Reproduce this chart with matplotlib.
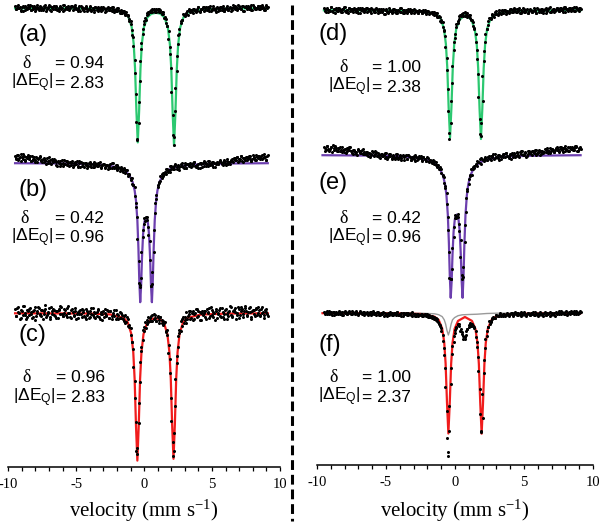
import numpy as np
import matplotlib.pyplot as plt
from matplotlib.ticker import MultipleLocator

plt.rcParams['font.family'] = ['Liberation Sans', 'DejaVu Sans']
plt.rcParams['mathtext.default'] = 'regular'
plt.rcParams['axes.unicode_minus'] = False

# channel velocities (mm/s) of the two halves of each folded spectrum
channel_v = np.linspace(-9.5, 9.1, 187)
channel_v2 = np.linspace(-9.45, 9.05, 187)

dots_a = [100.2, 99.9, 100.3, 100.0, 99.8, 100.1, 99.7, 100.2, 100.1, 99.9,
          100.0, 100.3, 99.8, 99.9, 100.2, 99.7, 100.1, 100.0, 100.2, 99.8,
          99.9, 100.2, 100.1, 99.7, 100.0, 100.3, 99.8, 100.1, 99.9, 100.2,
          100.1, 99.8, 100.0, 100.2, 99.9, 99.7, 100.3, 99.9, 100.1, 100.0,
          99.8, 100.1, 100.2, 99.9, 100.1, 99.9, 99.7, 100.2, 99.7, 100.0,
          100.0, 99.7, 100.1, 99.9, 99.8, 100.2, 99.7, 100.0, 99.8, 100.1,
          99.8, 100.1, 99.9, 99.7, 100.0, 100.1, 99.6, 99.9, 100.0, 99.8,
          100.0, 99.7, 100.1, 99.8, 99.7, 100.0, 99.8, 99.5, 99.8, 99.5,
          99.7, 99.4, 99.6, 99.2, 98.9, 98.7, 97.8, 97.1, 94.8, 91.4,
          86.8, 88.5, 92.7, 95.9, 97.4, 98.4, 98.8, 99.3, 99.6, 99.6,
          99.8, 99.6, 99.9, 99.8, 99.6, 99.9, 99.9, 99.6, 99.6, 99.6,
          99.1, 98.9, 98.2, 97.7, 96.1, 94.0, 89.3, 86.3, 89.7, 93.7,
          96.4, 97.4, 98.5, 98.8, 99.3, 99.2, 99.5, 99.3, 99.8, 99.7,
          99.6, 99.9, 99.8, 99.6, 99.9, 100.1, 99.7, 99.9, 100.1, 99.7,
          100.0, 99.8, 100.1, 100.0, 99.7, 99.9, 100.2, 99.8, 100.0, 99.7,
          99.9, 100.1, 99.8, 100.2, 99.7, 100.0, 99.9, 99.8, 100.1, 100.0,
          99.8, 100.1, 100.2, 99.9, 100.3, 100.0, 99.9, 100.2, 99.7, 100.1,
          100.2, 100.0, 99.9, 100.1, 99.8, 100.3, 100.1, 99.9, 100.0, 100.2,
          99.9, 100.1, 100.3, 100.0, 99.8, 100.2, 100.1]
dots_a2 = [99.9, 100.2, 100.0, 100.1, 99.7, 100.2, 100.1, 99.8, 100.0, 100.3,
           100.1, 99.8, 100.2, 100.0, 100.1, 99.9, 100.3, 99.8, 100.0, 100.1,
           99.8, 100.0, 100.3, 99.9, 100.1, 100.2, 99.7, 100.0, 100.2, 99.9,
           100.2, 99.9, 99.7, 100.1, 100.0, 100.3, 99.8, 100.1, 99.9, 100.2,
           100.0, 100.2, 99.8, 100.1, 100.3, 99.9, 100.0, 99.8, 100.2, 100.1,
           99.8, 100.0, 100.2, 99.7, 99.9, 100.1, 99.8, 100.0, 99.6, 100.1,
           100.0, 99.7, 99.9, 100.1, 99.8, 100.0, 99.9, 99.7, 100.1, 99.8,
           99.8, 100.1, 99.9, 99.6, 99.9, 99.7, 100.0, 99.7, 99.5, 99.7,
           99.6, 99.3, 99.3, 99.3, 98.7, 98.4, 97.3, 96.2, 93.5, 88.6,
           86.9, 90.6, 94.7, 96.5, 97.9, 98.7, 99.0, 99.5, 99.4, 99.7,
           99.6, 99.9, 99.8, 99.6, 99.9, 99.8, 99.6, 99.8, 99.4, 99.4,
           99.0, 98.5, 98.2, 96.9, 95.4, 91.6, 87.3, 87.1, 92.0, 95.2,
           97.3, 97.9, 98.7, 98.8, 99.4, 99.4, 99.4, 99.7, 99.9, 99.6,
           99.8, 99.5, 99.9, 99.8, 99.7, 100.1, 99.6, 99.9, 99.9, 100.1,
           99.8, 100.1, 99.9, 99.7, 100.2, 99.8, 100.0, 99.9, 99.6, 100.1,
           100.0, 99.8, 100.1, 100.0, 99.7, 99.9, 100.2, 99.8, 100.0, 99.7,
           100.0, 100.3, 99.9, 100.1, 99.8, 100.2, 100.0, 99.9, 100.2, 99.7,
           100.1, 99.9, 100.2, 100.0, 100.3, 99.8, 100.1, 99.9, 100.0, 100.2,
           99.9, 100.2, 100.0, 100.1, 99.8, 100.3, 100.0]

dots_b = [100.7, 100.4, 100.8, 100.5, 100.2, 100.6, 100.9, 100.3, 100.6, 100.5,
          100.4, 100.7, 100.2, 100.3, 100.6, 100.1, 100.5, 100.4, 100.7, 100.2,
          100.1, 100.5, 100.3, 99.9, 100.2, 100.6, 100.0, 100.3, 100.1, 100.4,
          100.1, 99.7, 100.0, 100.2, 99.9, 99.7, 100.3, 99.9, 100.2, 100.0,
          99.7, 100.0, 100.2, 99.8, 100.1, 99.9, 99.6, 100.2, 99.6, 100.0,
          100.0, 99.6, 100.0, 99.8, 99.7, 100.1, 99.6, 99.9, 99.6, 100.0,
          99.7, 100.0, 99.8, 99.5, 99.8, 99.9, 99.5, 99.7, 99.8, 99.6,
          99.9, 99.5, 100.0, 99.6, 99.5, 99.8, 99.5, 99.2, 99.5, 99.3,
          99.4, 99.0, 99.3, 98.9, 98.9, 98.3, 98.5, 97.8, 97.6, 96.0,
          94.6, 90.2, 87.6, 88.5, 92.6, 93.9, 94.6, 94.6, 93.6, 92.2,
          87.7, 87.9, 91.1, 95.0, 96.4, 97.6, 98.0, 98.2, 98.9, 98.7,
          99.1, 98.9, 99.4, 99.3, 99.1, 99.7, 99.4, 99.7, 99.9, 99.4,
          99.8, 99.6, 99.7, 100.0, 99.5, 99.8, 99.5, 99.9, 99.8, 99.9,
          99.7, 100.0, 100.1, 99.6, 99.8, 99.9, 99.5, 100.0, 100.0, 99.7,
          100.1, 99.9, 99.7, 100.2, 100.0, 99.8, 100.1, 99.6, 100.0, 99.9,
          100.1, 100.3, 99.9, 100.0, 100.2, 99.8, 100.4, 100.0, 99.9, 100.2,
          100.2, 100.5, 100.3, 100.6, 100.1, 100.4, 100.7, 100.2, 100.5, 100.3,
          100.6, 100.3, 100.7, 100.4, 100.2, 100.8, 100.5, 100.3, 100.6, 100.7,
          100.5, 100.7, 100.4, 100.9, 100.6, 100.3, 100.8]
dots_b2 = [100.5, 100.8, 100.3, 100.6, 100.9, 100.4, 100.7, 100.2, 100.6, 100.8,
           100.5, 100.2, 100.7, 100.4, 100.3, 100.6, 100.1, 100.5, 100.6, 100.3,
           100.4, 100.1, 100.2, 100.5, 100.0, 100.3, 99.9, 100.4, 100.2, 100.3,
           99.8, 100.2, 100.1, 99.7, 100.3, 100.0, 99.9, 100.2, 99.8, 100.1,
           100.1, 99.8, 99.6, 100.0, 99.9, 100.2, 99.7, 100.0, 100.1, 99.7,
           99.7, 100.0, 99.8, 99.5, 100.0, 99.7, 99.9, 99.6, 100.1, 99.8,
           99.9, 99.7, 100.1, 99.6, 99.8, 99.9, 99.6, 99.8, 99.4, 99.8,
           99.5, 100.0, 99.6, 99.5, 99.8, 99.3, 99.6, 99.5, 99.6, 99.1,
           99.5, 99.1, 99.3, 98.7, 98.8, 98.5, 97.9, 97.8, 96.7, 95.6,
           92.4, 88.0, 87.8, 91.1, 93.3, 94.5, 94.2, 94.3, 92.8, 90.3,
           87.7, 89.1, 93.3, 96.0, 96.8, 97.8, 98.1, 98.7, 98.5, 99.0,
           98.9, 99.4, 99.3, 99.1, 99.7, 99.4, 99.6, 99.4, 99.8, 99.6,
           99.7, 99.3, 99.9, 99.7, 99.6, 100.0, 99.5, 99.9, 99.7, 100.0,
           99.6, 99.9, 100.1, 99.7, 99.8, 99.5, 100.0, 99.9, 99.6, 100.2,
           100.0, 99.7, 100.2, 99.9, 99.8, 100.1, 99.6, 100.0, 99.9, 100.1,
           99.9, 100.2, 100.1, 99.8, 100.3, 100.0, 100.2, 99.9, 100.1, 100.3,
           100.4, 100.1, 100.5, 100.3, 100.6, 100.2, 100.4, 100.7, 100.1, 100.5,
           100.3, 100.6, 100.5, 100.7, 100.2, 100.4, 100.6, 100.3, 100.8, 100.5,
           100.7, 100.4, 100.8, 100.5, 100.6, 100.3, 100.7]

dots_c = [100.4, 99.7, 100.6, 100.0, 99.5, 100.2, 100.7, 99.8, 99.4, 100.3,
          99.8, 100.5, 100.1, 99.6, 100.3, 99.3, 100.2, 100.6, 99.9, 99.7,
          100.3, 99.9, 100.8, 99.6, 100.0, 100.5, 99.4, 100.2, 100.4, 99.8,
          99.5, 100.2, 100.4, 99.9, 100.6, 99.7, 100.0, 100.3, 99.6, 100.7,
          100.0, 99.5, 100.4, 99.7, 100.2, 99.4, 100.1, 99.9, 100.3, 99.6,
          100.3, 99.7, 99.4, 100.2, 100.0, 99.6, 100.5, 99.8, 100.1, 99.5,
          100.1, 100.4, 99.6, 99.9, 99.3, 100.2, 100.0, 99.7, 100.3, 99.5,
          100.2, 99.7, 99.8, 100.3, 99.4, 99.9, 99.4, 100.1, 99.5, 99.8,
          99.2, 99.8, 99.1, 99.4, 98.6, 98.5, 97.1, 96.4, 93.2, 89.1,
          85.9, 89.0, 93.1, 96.2, 97.3, 98.6, 98.5, 99.3, 99.1, 99.5,
          99.7, 99.2, 99.9, 99.5, 99.2, 99.7, 99.3, 99.6, 99.0, 99.2,
          99.1, 98.2, 98.3, 96.8, 95.4, 91.5, 87.1, 86.2, 90.7, 95.0,
          96.6, 98.3, 98.2, 99.4, 99.0, 99.6, 99.0, 99.7, 100.2, 99.4,
          100.0, 99.3, 99.9, 100.4, 99.6, 100.2, 99.3, 100.0, 99.8, 100.2,
          99.6, 100.4, 100.0, 99.5, 100.6, 99.8, 100.1, 99.3, 100.2, 99.9,
          100.3, 99.7, 100.5, 99.6, 99.9, 100.4, 99.4, 100.1, 100.7, 99.8,
          99.6, 100.3, 100.1, 99.8, 100.6, 99.5, 100.2, 100.4, 99.9, 100.7,
          100.2, 99.7, 100.5, 100.1, 99.4, 100.3, 99.9, 100.4, 99.8, 100.6,
          99.8, 100.4, 100.0, 99.5, 100.3, 100.1, 99.7]
dots_c2 = [99.7, 100.5, 100.1, 99.4, 100.3, 99.8, 100.7, 100.0, 99.6, 100.2,
           100.4, 99.9, 99.5, 100.2, 100.6, 99.7, 100.0, 100.5, 99.8, 100.3,
           99.4, 100.2, 100.4, 99.8, 100.1, 99.6, 100.6, 99.9, 100.3, 99.7,
           100.2, 99.5, 100.3, 100.7, 99.9, 99.7, 100.4, 99.8, 100.5, 100.0,
           99.6, 100.3, 100.1, 99.8, 100.5, 99.9, 99.5, 100.2, 99.9, 100.4,
           100.1, 99.6, 100.4, 99.8, 99.5, 100.2, 99.9, 100.5, 99.6, 100.0,
           99.7, 100.3, 99.4, 100.1, 99.9, 99.6, 100.4, 99.8, 100.2, 99.5,
           100.2, 99.4, 100.0, 99.7, 100.3, 99.5, 99.8, 99.5, 100.0, 99.4,
           99.7, 99.0, 99.6, 98.7, 98.8, 97.8, 97.1, 94.6, 91.5, 86.2,
           86.5, 91.0, 95.1, 96.6, 98.3, 98.2, 99.1, 98.9, 99.6, 99.2,
           99.2, 99.8, 99.4, 99.8, 99.2, 99.6, 99.0, 99.6, 99.3, 98.8,
           99.0, 98.1, 97.8, 96.0, 94.0, 89.2, 85.7, 88.0, 93.4, 95.7,
           97.7, 98.0, 99.2, 98.7, 99.6, 99.3, 100.1, 99.4, 99.9, 100.2,
           99.5, 100.2, 99.4, 100.0, 100.4, 99.7, 100.1, 99.3, 100.2, 100.0,
           100.2, 99.4, 100.1, 100.5, 99.7, 100.3, 99.6, 100.0, 100.4, 99.5,
           100.0, 100.5, 99.6, 100.1, 99.4, 100.3, 99.9, 99.7, 100.2, 100.6,
           99.7, 100.2, 100.5, 99.4, 100.0, 100.4, 99.8, 100.6, 99.6, 100.2,
           100.5, 99.8, 100.1, 100.6, 99.6, 100.2, 100.3, 99.7, 100.5, 100.0,
           100.3, 99.7, 100.6, 100.1, 99.8, 100.4, 99.9]

dots_d = [100.2, 99.9, 100.1, 99.8, 100.0, 100.3, 99.9, 100.1, 99.7, 100.2,
          99.9, 100.2, 100.0, 99.8, 100.1, 100.3, 99.8, 100.0, 100.2, 99.9,
          100.1, 99.8, 100.2, 100.1, 99.9, 99.7, 100.2, 100.0, 100.1, 99.8,
          100.0, 100.2, 99.9, 100.1, 99.7, 100.1, 100.0, 99.8, 100.2, 99.7,
          100.1, 99.8, 99.9, 100.1, 99.6, 100.0, 99.8, 100.2, 99.9, 99.7,
          100.0, 100.1, 99.7, 99.9, 100.0, 99.8, 100.2, 99.7, 100.0, 99.9,
          99.8, 100.1, 99.9, 99.7, 100.0, 100.1, 99.8, 99.9, 99.7, 100.0,
          99.9, 99.7, 100.0, 99.8, 99.6, 99.9, 99.8, 99.7, 99.8, 99.6,
          99.8, 99.5, 99.7, 99.3, 99.3, 98.8, 98.8, 98.0, 97.4, 95.2,
          92.1, 87.7, 88.7, 92.7, 96.0, 97.2, 98.3, 98.9, 99.1, 99.4,
          99.6, 99.7, 99.4, 99.7, 99.7, 99.4, 99.5, 99.0, 98.8, 98.2,
          97.6, 96.0, 93.6, 89.1, 87.4, 90.9, 94.9, 96.8, 98.1, 98.5,
          99.2, 99.1, 99.5, 99.3, 99.8, 99.6, 99.6, 100.0, 99.6, 99.9,
          99.7, 100.0, 99.8, 99.9, 99.7, 100.1, 99.8, 100.0, 100.2, 99.8,
          100.1, 99.9, 99.7, 100.0, 100.2, 99.8, 99.9, 100.1, 99.7, 100.0,
          100.0, 99.8, 100.2, 99.9, 99.7, 100.1, 100.0, 99.8, 100.1, 99.9,
          100.1, 99.7, 100.0, 100.2, 99.8, 99.9, 100.1, 99.8, 100.0, 100.2,
          99.9, 100.2, 100.0, 100.1, 100.3, 99.8, 100.1, 100.0, 100.2, 99.9,
          100.1, 100.3, 99.9, 100.2, 100.0, 100.2, 100.1]
dots_d2 = [100.1, 99.8, 100.2, 100.0, 99.9, 100.3, 99.8, 100.1, 100.0, 99.9,
           100.2, 100.0, 99.8, 100.1, 100.3, 99.9, 100.0, 99.7, 100.2, 100.1,
           99.9, 100.1, 100.0, 99.8, 100.2, 100.1, 99.7, 100.2, 99.9, 100.1,
           100.2, 99.8, 100.1, 99.9, 100.2, 100.0, 99.8, 100.1, 100.1, 99.9,
           99.9, 100.1, 99.8, 99.6, 100.0, 100.1, 99.7, 99.9, 100.0, 99.8,
           100.1, 99.8, 100.0, 99.7, 99.9, 100.2, 99.8, 100.0, 99.7, 100.0,
           99.7, 100.0, 100.1, 99.8, 99.9, 99.7, 100.0, 99.9, 99.7, 99.9,
           99.9, 99.7, 99.8, 100.0, 99.7, 99.9, 99.6, 99.7, 99.8, 99.6,
           99.5, 99.7, 99.3, 99.4, 98.9, 99.0, 98.3, 97.9, 96.3, 94.0,
           89.9, 87.1, 90.9, 94.4, 96.8, 97.6, 98.6, 98.7, 99.4, 99.5,
           99.6, 99.4, 99.8, 99.5, 99.3, 99.5, 99.2, 99.0, 98.4, 98.1,
           96.8, 95.1, 91.3, 87.6, 88.7, 93.4, 95.9, 97.6, 98.1, 98.9,
           99.2, 99.2, 99.6, 99.4, 99.6, 99.9, 99.5, 99.8, 99.7, 100.0,
           99.7, 100.0, 99.6, 99.8, 99.9, 99.8, 100.1, 99.8, 99.9, 100.1,
           99.8, 100.0, 100.2, 99.7, 99.9, 100.1, 99.8, 100.0, 99.7, 99.9,
           100.1, 99.8, 99.9, 100.0, 99.7, 100.2, 99.8, 99.9, 100.1, 99.7,
           100.0, 100.2, 99.9, 100.1, 100.3, 99.8, 100.0, 100.1, 99.9, 100.2,
           100.1, 99.9, 100.2, 100.0, 99.8, 100.3, 100.1, 99.9, 100.2, 100.0,
           100.2, 100.0, 99.9, 100.3, 100.1, 99.9, 100.2]

dots_e = [100.8, 100.4, 100.9, 100.6, 100.5, 100.8, 100.3, 100.7, 100.9, 100.5,
          100.4, 100.7, 100.8, 100.3, 100.5, 100.6, 100.2, 100.7, 100.5, 100.8,
          100.4, 100.1, 100.5, 100.3, 100.0, 100.5, 100.4, 100.2, 100.6, 100.1,
          100.1, 100.3, 99.9, 100.2, 100.0, 100.4, 99.9, 100.1, 100.3, 100.0,
          100.0, 99.7, 100.1, 99.9, 100.2, 99.8, 99.6, 100.1, 99.9, 99.7,
          100.0, 99.7, 99.8, 100.1, 99.6, 99.9, 99.7, 100.0, 99.5, 99.9,
          99.6, 100.0, 99.9, 99.5, 99.7, 99.9, 99.4, 99.8, 99.6, 99.9,
          99.9, 99.5, 99.8, 99.6, 99.4, 99.8, 99.4, 99.5, 99.2, 99.5,
          99.1, 99.3, 98.8, 99.0, 98.6, 98.6, 97.9, 97.8, 96.9, 96.2,
          93.8, 90.3, 87.6, 88.6, 91.8, 93.7, 93.9, 94.1, 93.1, 91.5,
          88.0, 87.8, 91.3, 94.3, 96.4, 97.1, 98.0, 98.0, 98.6, 98.7,
          99.1, 98.9, 99.3, 99.6, 99.1, 99.5, 99.4, 99.7, 99.5, 99.8,
          99.6, 99.9, 99.8, 99.6, 100.1, 99.8, 99.7, 100.0, 99.6, 99.9,
          100.1, 99.8, 100.2, 99.9, 99.7, 100.0, 100.2, 99.8, 100.1, 99.9,
          100.2, 99.9, 100.3, 100.4, 100.0, 100.1, 100.3, 99.9, 100.4, 100.2,
          100.1, 100.4, 100.2, 100.5, 100.0, 100.3, 100.5, 100.1, 100.4, 100.2,
          100.6, 100.3, 100.7, 100.4, 100.2, 100.6, 100.5, 100.3, 100.7, 100.5,
          100.4, 100.8, 100.6, 100.3, 100.7, 100.9, 100.5, 100.4, 100.8, 100.6,
          100.7, 100.5, 100.9, 100.8, 100.4, 100.7, 100.6]
dots_e2 = [100.7, 100.5, 100.9, 100.4, 100.6, 100.8, 101.0, 100.5, 100.7, 100.4,
           100.7, 100.4, 100.5, 100.8, 100.3, 100.6, 100.4, 100.7, 100.8, 100.4,
           100.2, 100.5, 100.3, 100.1, 100.6, 100.4, 100.2, 100.5, 100.1, 100.3,
           100.3, 100.0, 100.2, 99.8, 100.1, 100.3, 100.0, 100.4, 99.9, 100.2,
           99.8, 100.1, 99.9, 100.0, 99.7, 100.2, 99.8, 99.9, 100.1, 99.6,
           99.9, 99.6, 100.1, 99.8, 99.7, 100.0, 99.5, 99.9, 99.8, 100.0,
           99.6, 100.0, 99.8, 99.5, 99.8, 99.6, 100.0, 99.5, 99.8, 99.7,
           99.7, 99.4, 99.8, 99.6, 99.4, 99.7, 99.3, 99.5, 99.3, 99.2,
           99.4, 99.0, 99.0, 98.6, 98.8, 98.2, 98.0, 97.2, 96.7, 95.1,
           92.5, 87.7, 87.6, 90.7, 92.8, 94.0, 93.7, 93.8, 92.4, 89.8,
           87.6, 88.8, 93.0, 95.7, 96.6, 97.6, 97.9, 98.6, 98.8, 98.9,
           99.0, 99.4, 99.3, 99.2, 99.7, 99.6, 99.5, 99.8, 99.5, 99.8,
           99.9, 99.5, 99.9, 100.1, 99.7, 99.8, 100.0, 99.5, 99.9, 99.9,
           99.8, 100.1, 100.2, 99.9, 99.8, 100.1, 99.6, 100.0, 100.2, 99.8,
           100.3, 100.0, 99.8, 100.1, 100.4, 100.0, 100.2, 99.8, 100.1, 100.4,
           100.3, 100.0, 100.4, 100.2, 100.5, 100.1, 100.3, 100.0, 100.4, 100.3,
           100.3, 100.6, 100.5, 100.2, 100.7, 100.4, 100.6, 100.3, 100.5, 100.8,
           100.6, 100.3, 100.8, 100.5, 100.7, 100.4, 100.6, 100.8, 100.4, 100.7,
           100.8, 100.5, 100.7, 100.9, 100.4, 100.6, 100.8]

dots_f = [100.1, 99.9, 100.2, 100.0, 99.9, 100.1, 99.8, 100.1, 100.0, 99.9,
          100.0, 100.2, 99.9, 100.1, 99.8, 100.0, 100.1, 99.9, 100.2, 100.0,
          99.9, 100.1, 100.0, 100.2, 99.9, 99.8, 100.1, 100.0, 99.9, 100.1,
          100.0, 99.9, 99.8, 100.0, 100.1, 99.9, 99.9, 100.0, 99.8, 100.1,
          99.9, 99.8, 100.0, 100.1, 99.8, 99.9, 99.7, 100.0, 99.9, 100.0,
          99.8, 100.0, 99.9, 100.1, 99.8, 99.9, 100.0, 99.7, 100.0, 99.9,
          100.0, 99.8, 99.9, 100.0, 99.7, 99.9, 99.9, 99.7, 99.9, 99.8,
          99.9, 99.7, 99.8, 99.9, 99.7, 99.9, 99.6, 99.7, 99.7, 99.5,
          99.6, 99.3, 99.4, 99.1, 98.7, 98.5, 97.8, 96.5, 94.5, 90.2,
          85.7, 88.2, 92.9, 95.9, 97.1, 98.0, 98.5, 98.8, 98.9, 98.4,
          98.1, 97.7, 97.4, 97.8, 98.4, 98.6, 98.9, 98.9, 98.7, 98.6,
          98.2, 97.1, 95.6, 92.4, 88.2, 89.5, 94.0, 96.5, 97.7, 98.6,
          98.9, 99.1, 99.5, 99.5, 99.5, 99.8, 99.7, 99.8, 99.7, 99.8,
          99.9, 99.7, 99.8, 100.0, 99.8, 99.9, 100.0, 99.7, 100.0, 99.9,
          99.8, 100.0, 99.9, 99.7, 100.0, 100.1, 99.8, 99.9, 100.0, 99.8,
          100.0, 99.9, 99.8, 100.1, 99.9, 99.7, 100.0, 100.0, 99.8, 99.9,
          100.1, 99.8, 99.9, 100.0, 99.7, 100.0, 99.9, 99.8, 100.1, 99.9,
          99.9, 100.1, 100.2, 100.0, 99.9, 100.1, 99.8, 100.0, 100.1, 100.2,
          100.0, 99.9, 100.1, 100.2, 99.9, 100.0, 100.1]
dots_f2 = [100.0, 100.1, 99.9, 100.2, 100.0, 99.9, 100.1, 99.8, 100.1, 100.0,
           99.9, 100.1, 100.0, 99.8, 100.1, 100.2, 99.9, 100.0, 100.1, 99.9,
           100.2, 100.0, 99.9, 100.1, 99.9, 100.0, 100.2, 99.9, 100.1, 99.8,
           100.0, 100.1, 99.9, 100.1, 99.8, 100.2, 100.0, 99.9, 100.1, 100.0,
           99.8, 100.0, 99.9, 99.7, 100.0, 99.9, 100.0, 99.8, 100.1, 99.8,
           99.9, 100.0, 99.8, 100.1, 99.8, 99.9, 99.7, 100.0, 99.9, 100.0,
           99.8, 100.0, 99.9, 99.8, 100.1, 99.9, 99.7, 99.9, 99.7, 99.8,
           99.8, 99.9, 99.7, 99.9, 99.8, 99.6, 99.8, 99.6, 99.5, 99.6,
           99.4, 99.5, 99.2, 98.9, 98.8, 98.2, 97.2, 95.8, 92.6, 87.5,
           86.1, 90.7, 94.5, 96.7, 97.7, 98.3, 98.6, 98.9, 98.7, 98.2,
           97.9, 97.4, 97.6, 98.2, 98.4, 98.8, 99.0, 98.7, 98.7, 98.5,
           97.6, 96.6, 94.2, 89.9, 88.1, 91.9, 95.3, 97.4, 98.2, 98.6,
           99.2, 99.2, 99.4, 99.6, 99.5, 99.8, 99.7, 99.7, 100.0, 99.8,
           99.7, 99.9, 99.8, 99.9, 99.7, 99.9, 100.0, 99.8, 99.9, 100.1,
           100.0, 99.8, 99.9, 100.1, 99.8, 100.0, 99.9, 99.7, 100.0, 99.9,
           99.8, 99.9, 100.1, 99.8, 100.0, 99.9, 99.8, 100.1, 99.9, 99.7,
           100.0, 99.8, 100.0, 99.9, 100.1, 99.8, 99.9, 100.0, 99.7, 100.0,
           100.0, 100.2, 99.9, 100.1, 100.0, 99.9, 100.2, 100.0, 100.1, 99.9,
           100.1, 100.0, 100.2, 99.9, 100.1, 100.0, 100.2]

# fit curves (velocity, transmission %)
fit_a_v = [-9.5, -6, -4, -2.47, -1.47, -1.17, -0.92, -0.77, -0.67, -0.57, -0.47, -0.37,
           -0.27, -0.17, -0.02, 0.23, 0.53, 0.865, 1.2, 1.5, 1.75, 1.9, 2.0, 2.1, 2.2,
           2.3, 2.4, 2.5, 2.65, 2.9, 3.2, 4.2, 6, 9.1]
fit_a_t = [99.97, 99.96, 99.95, 99.87, 99.55, 99.14, 98.12, 96.42, 93.97, 89.72, 86.56, 89.72,
           93.96, 96.4, 98.06, 99.06, 99.42, 99.52, 99.43, 99.04, 98.02, 96.29, 93.8, 89.45, 86.23,
           89.46, 93.81, 96.3, 98.04, 99.09, 99.53, 99.85, 99.94, 99.97]

fit_b_v = [-9.5, -6, -4, -3, -2, -1.5, -1.1, -0.85, -0.7, -0.6, -0.5, -0.42, -0.36, -0.29,
           -0.22, -0.16, -0.08, 0.0, 0.07, 0.14, 0.21, 0.28, 0.36, 0.44, 0.5, 0.57, 0.64,
           0.7, 0.78, 0.88, 0.98, 1.13, 1.38, 1.78, 2.28, 3.28, 4.28, 6.28, 9.1]
fit_b_t = [99.98, 99.95, 99.89, 99.8, 99.58, 99.31, 98.8, 98.11, 97.26, 96.23, 94.29, 91.41, 88.36,
           86.08, 87.87, 90.49, 92.84, 93.97, 94.4, 94.54, 94.4, 93.97, 92.84, 90.49, 87.87, 86.08,
           88.36, 91.41, 94.29, 96.23, 97.26, 98.11, 98.8, 99.31, 99.58, 99.8, 99.89, 99.95, 99.98]

fit_c_v = [-9.5, -4, -2.5, -1.5, -1.2, -0.95, -0.8, -0.7, -0.6, -0.5, -0.4, -0.3, -0.2, -0.05,
           0.2, 0.5, 0.83, 1.16, 1.46, 1.71, 1.86, 1.96, 2.06, 2.16, 2.26, 2.36, 2.46, 2.61,
           2.86, 3.16, 4.16, 6, 9.1]
fit_c_t = [99.97, 99.95, 99.86, 99.51, 99.05, 97.93, 96.06, 93.38, 88.72, 85.24, 88.71, 93.37,
           96.03, 97.87, 98.97, 99.37, 99.48, 99.38, 98.98, 97.9, 96.07, 93.43, 88.84, 85.42,
           88.84, 93.45, 96.09, 97.94, 99.05, 99.5, 99.84, 99.94, 99.97]

fit_d_v = [-9.5, -4, -2.36, -1.36, -1.06, -0.81, -0.66, -0.56, -0.46, -0.36, -0.26, -0.16,
           -0.06, 0.09, 0.34, 0.76, 1.18, 1.43, 1.58, 1.68, 1.78, 1.88, 1.98, 2.08, 2.18, 2.33,
           2.58, 2.88, 3.88, 6, 9.1]
fit_d_t = [99.97, 99.95, 99.88, 99.58, 99.18, 98.21, 96.59, 94.27, 90.25, 87.24, 90.24, 94.26,
           96.52, 98.12, 99.04, 99.5, 99.04, 98.1, 96.5, 94.17, 90.12, 87.1, 90.13, 94.19, 96.52,
           98.15, 99.13, 99.53, 99.86, 99.94, 99.97]

fit_e_v = [-9.6, -6.02, -4.02, -3.02, -2.02, -1.52, -1.12, -0.87, -0.72, -0.62, -0.52, -0.44,
           -0.38, -0.31, -0.24, -0.18, -0.10, -0.02, 0.05, 0.12, 0.19, 0.26, 0.34, 0.42, 0.48,
           0.55, 0.62, 0.68, 0.76, 0.86, 0.96, 1.11, 1.36, 1.76, 2.26, 3.26, 4.26, 6.26, 9.1]
fit_e_t = [99.98, 99.94, 99.88, 99.78, 99.53, 99.23, 98.68, 97.94, 97.06, 95.99, 94.02, 91.11,
           88.03, 85.72, 87.47, 90.07, 92.38, 93.49, 93.9, 94.04, 93.9, 93.49, 92.38, 90.07, 87.47,
           85.72, 88.03, 91.11, 94.02, 95.99, 97.06, 97.94, 98.68, 99.23, 99.53, 99.78, 99.88,
           99.94, 99.98]

fit_f_v = [-9.6, -4, -2.48, -1.48, -1.18, -0.93, -0.78, -0.68, -0.58, -0.48, -0.38, -0.28,
           -0.18, -0.03, 0.22, 0.72, 1.23, 1.48, 1.63, 1.73, 1.83, 1.93, 2.03, 2.13, 2.23, 2.38,
           2.63, 2.93, 3.93, 6, 9.1]
fit_f_t = [99.98, 99.96, 99.9, 99.63, 99.3, 98.46, 97.04, 94.93, 91.03, 87.95, 91.03, 94.92,
           97.0, 98.41, 99.21, 99.6, 99.21, 98.41, 97.0, 94.89, 91.0, 87.93, 91.0, 94.9, 97.01,
           98.44, 99.28, 99.62, 99.88, 99.95, 99.98]

# minor component in (f)
comp_f_v = [-9.6, -2.48, -1.48, -1.18, -0.93, -0.78, -0.68, -0.58, -0.48, -0.38, -0.28, -0.18,
            -0.03, 0.22, 0.52, 1.0, 1.6, 2.3, 3.0, 9.1]
comp_f_t = [100.0, 99.98, 99.92, 99.83, 99.64, 99.32, 98.9, 98.24, 97.8, 98.24, 98.9, 99.32,
            99.54, 99.73, 99.82, 99.85, 99.88, 99.95, 99.98, 100.0]

panel_names = ['(a)', '(b)', '(c)', '(d)', '(e)', '(f)']
delta_vals = ['0.94', '0.42', '0.96', '1.00', '0.42', '1.00']
deq_vals = ['2.83', '0.96', '2.83', '2.38', '0.96', '2.37']
tick_vals = [-10, -5, 0, 5, 10]

W, H = 600, 523
fig = plt.figure(figsize=(6, 5.23), dpi=100)


def px_axes(x0, y0, x1, y1):
    # box given in pixels from the top left corner
    ax = fig.add_axes([x0 / W, 1 - y1 / H, (x1 - x0) / W, (y1 - y0) / H])
    ax.patch.set_visible(False)
    return ax


def spectrum(box, base_px, dots1, dots2, fit_v, fit_t, color, bottom=False):
    ax = px_axes(*box)
    # 10 px per percent, baseline at base_px
    top = 100 + (base_px - box[1]) / 10
    ax.set_ylim(top - (box[3] - box[1]) / 10, top)
    ax.set_xlim(-10, 10)
    ax.plot(fit_v, fit_t, color=color, lw=1.6, zorder=2)
    ax.plot(channel_v, dots1, 'o', ms=2.2, mec='none', color='black', zorder=3)
    ax.plot(channel_v2, dots2, 'o', ms=2.2, mec='none', color='black', zorder=3)
    for s in ['top', 'left', 'right', 'bottom']:
        ax.spines[s].set_visible(False)
    ax.set_yticks([])
    if bottom:
        ax.spines['bottom'].set_visible(True)
        ax.spines['bottom'].set_linewidth(1.1)
        ax.set_xticks(tick_vals, labels=[str(t) for t in tick_vals],
                      fontfamily='Liberation Serif', fontsize=10.5)
        ax.xaxis.set_minor_locator(MultipleLocator(1))
        ax.tick_params(axis='x', which='both', direction='out', length=3, width=0.9, pad=5)
    else:
        ax.set_xticks([])
    return ax


green = '#2cc870'
purple = '#6c3fae'
red = '#f01c1c'

spectrum((8.3, 0, 280, 150), 8, dots_a, dots_a2, fit_a_v, fit_a_t, green)
spectrum((8.3, 145, 280, 310), 163, dots_b, dots_b2, fit_b_v, fit_b_t, purple)
spectrum((8.3, 295, 280, 467), 313, dots_c, dots_c2, fit_c_v, fit_c_t, red, bottom=True)
spectrum((317, 0, 593, 150), 10, dots_d, dots_d2, fit_d_v, fit_d_t, green)
spectrum((317, 140, 593, 305), 155, dots_e, dots_e2, fit_e_v, fit_e_t, purple)
ax_f = spectrum((317, 295, 593, 465), 313, dots_f, dots_f2, fit_f_v, fit_f_t, red, bottom=True)
ax_f.plot(comp_f_v, comp_f_t, color='#9a9a9a', lw=1.0, zorder=1)


def ftext(x, y, s, **kw):
    fig.text(x / W, 1 - y / H, s, va='center', ha='left', **kw)


# panel letter, delta position, |dEq| position, x of the "=" signs
label_pos = [(19, 35), (18, 190), (18, 335), (318, 34), (318, 183), (318, 345)]
delta_pos = [(22, 63), (20, 218), (22, 378), (339, 67), (339, 218), (329, 377)]
deq_pos = [(11, 83), (11, 238), (13, 398), (328, 87), (328, 238), (318, 397)]
eq_x = [55, 55, 56, 372, 372, 362]

for i in range(6):
    ftext(*label_pos[i], panel_names[i], fontsize=17)
    ftext(*delta_pos[i], 'δ', fontsize=13, family=['Liberation Serif', 'DejaVu Serif'])
    ftext(eq_x[i], delta_pos[i][1], '= ' + delta_vals[i], fontsize=12.5)
    ftext(*deq_pos[i], r'|ΔE$_{Q}$|', fontsize=12.5)
    ftext(eq_x[i], deq_pos[i][1], '= ' + deq_vals[i], fontsize=12.5)

# x labels
for xc in [144, 455]:
    fig.text(xc / W, 1 - 511 / H, r'velocity (mm s$^{-1}$)', ha='center', va='center',
             fontsize=15, family=['Liberation Serif', 'DejaVu Serif'])

# dashed separator
fig.add_artist(plt.Line2D([292 / W, 292 / W], [1 - 5 / H, 1 - 521 / H], transform=fig.transFigure,
                          color='black', lw=2.2, linestyle=(0, (3.2, 1.6))))

fig.savefig('out.png', dpi=100)
